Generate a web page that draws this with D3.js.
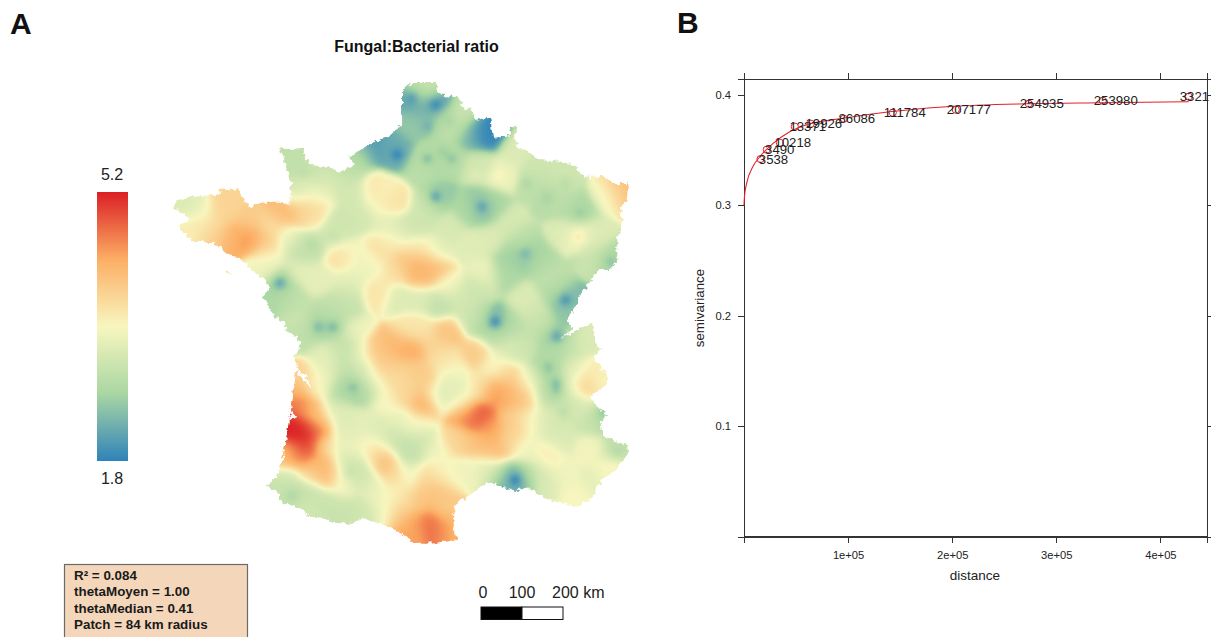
<!DOCTYPE html>
<html>
<head>
<meta charset="utf-8">
<script src="https://cdn.jsdelivr.net/npm/d3@7/dist/d3.min.js"></script>
<style>
  html, body { margin: 0; padding: 0; background: #fff; overflow: hidden; }
  svg { display: block; font-family: "Liberation Sans", Arial, sans-serif; }
  .axis path, .axis line { stroke: #333; shape-rendering: crispEdges; }
  .axis text { font-size: 11.2px; fill: #222; font-family: "Liberation Sans", Arial, sans-serif; }
</style>
</head>
<body>
<script>
// map units are km east / north of the south-west corner of the map window
var franceOutline = [
  [569,1115],[593,1127],[651,1127],[654,1103],[683,1093],[705,1093],[712,1069],[737,1061],[744,1037],[781,1042],
  [788,993],[825,996],[834,1020],[844,1017],[842,993],[847,971],[886,952],[898,939],[952,935],[988,927],
  [1008,898],[1061,898],[1081,883],[1118,883],[1118,849],[1098,817],[1103,786],[1091,752],[1091,695],[1074,673],
  [1044,673],[1032,651],[996,605],[993,586],[969,549],[981,529],[956,505],[981,517],[1005,532],[1030,537],
  [1037,495],[1052,476],[1032,459],[1066,415],[1066,390],[1025,366],[1037,342],[1064,317],[1049,300],[1057,264],
  [1115,244],[1118,220],[1091,188],[1049,154],[1032,117],[993,93],[959,102],[910,117],[866,142],[847,132],
  [793,146],[776,154],[732,122],[695,98],[691,41],[700,12],[659,7],[593,5],[561,32],[520,49],
  [471,66],[447,51],[398,54],[366,68],[342,68],[317,90],[268,105],[268,127],[232,146],[261,166],
  [276,220],[290,285],[300,366],[307,422],[312,439],[300,459],[317,481],[312,505],[285,520],[281,542],
  [256,556],[239,586],[227,603],[244,630],[224,651],[200,671],[176,695],[139,712],[105,739],[56,739],
  [41,756],[17,776],[49,793],[24,813],[12,822],[17,842],[81,852],[117,854],[122,866],[163,869],
  [195,825],[227,837],[268,837],[293,830],[295,883],[276,944],[266,974],[293,964],[325,969],[329,944],
  [342,927],[383,922],[415,910],[451,927],[439,944],[481,976],[529,993],[566,1025],[566,1103]
];
var girondeHole = [[312,427],[329,415],[344,390],[344,383],[327,400],[312,420]];
var arcachonHole = [[290,305],[300,325],[310,312],[298,305]];
var belleIle = [[134,672],[151,663],[141,660]];

// fungal:bacterial ratio: [km east, km north, ratio]
var fieldSamples = [
  [598,1086,2.0],[647,1078,1.95],[622,1049,2.4],[586,1025,2.5],[671,1037,2.75],[610,1105,3.0],[634,1120,3.1],
  [761,1005,1.85],[781,1005,1.8],[732,1000,2.4],[695,1025,3.0],[720,1057,3.0],[495,971,2.0],[537,976,2.2],[554,952,2.2],
  [464,952,2.7],[439,915,2.9],[342,915,3.0],[305,939,2.9],[317,866,3.0],[366,878,3.05],[415,878,3.1],
  [529,859,3.5],[500,866,3.7],[549,842,3.8],[512,830,3.6],[610,915,2.85],[651,939,2.7],[627,939,2.8],[683,944,2.8],
  [756,927,3.1],[647,849,2.5],[761,822,2.3],[732,817,2.7],[781,830,2.7],[805,903,3.4],[842,964,3.2],[903,915,3.05],
  [952,891,3.05],[915,854,2.8],[891,878,2.9],[952,842,2.85],[996,810,2.7],[1103,861,4.2],[1093,871,4.1],[1074,854,3.3],
  [996,752,3.6],[964,756,3.2],[1037,756,3.2],[1074,695,2.7],[1025,708,3.0],[866,708,2.5],[830,700,2.6],[903,695,2.7],
  [854,744,2.85],[817,659,2.7],[769,659,3.4],[964,598,2.3],[964,573,2.5],[939,622,2.8],[927,659,2.9],[830,781,3.15],
  [683,769,3.15],[659,720,3.25],[732,732,3.25],[781,744,3.2],[610,781,3.05],[622,830,3.1],[573,769,3.1],
  [610,691,4.4],[573,691,4.2],[647,676,4.2],[610,659,4.2],[586,725,3.6],[622,720,3.55],[678,634,3.5],
  [195,749,4.5],[146,744,4.3],[110,756,3.9],[122,817,3.9],[146,842,3.9],[85,781,3.75],[195,793,4.0],[232,732,4.0],
  [268,817,4.2],[317,813,4.2],[342,817,4.0],[366,854,3.55],[329,854,3.5],[244,781,3.8],[37,830,3.2],[73,817,3.3],
  [49,773,3.6],[293,744,3.4],[317,720,2.85],[342,732,2.95],[403,756,3.1],[415,781,3.05],[420,703,3.8],[451,708,3.4],
  [342,805,3.5],[512,720,3.8],[537,744,3.6],[488,683,3.4],[505,615,3.7],[549,671,3.7],[268,639,2.5],[256,605,2.7],
  [293,598,2.9],[317,671,3.3],[244,695,3.4],[220,671,3.4],[432,605,3.05],[439,647,3.3],[366,647,3.3],[561,598,3.2],
  [659,586,2.9],[610,598,3.2],[708,610,3.1],[756,622,3.0],[793,544,2.2],[756,549,2.8],[830,537,2.8],[793,512,2.9],
  [732,561,3.1],[944,508,2.4],[903,537,2.9],[866,598,3.2],[891,561,3.1],[854,488,3.0],[830,476,3.2],[361,532,2.6],
  [398,532,2.6],[317,549,3.0],[427,573,2.9],[390,573,2.9],[329,512,2.9],[451,525,3.4],[447,386,2.6],[415,378,2.7],
  [476,378,2.7],[427,427,2.8],[439,476,2.9],[464,427,3.1],[415,476,3.0],[378,464,3.3],[390,427,3.35],[366,390,3.4],
  [325,281,5.2],[305,281,5.2],[354,281,5.0],[329,244,5.1],[317,342,4.8],[342,329,4.2],[312,378,4.3],[366,305,3.9],
  [378,244,3.8],[317,407,3.9],[354,390,3.6],[293,220,4.2],[325,220,4.8],[378,190,4.4],[390,171,4.0],[342,183,3.9],
  [427,146,3.5],[403,329,3.2],[427,305,3.25],[293,159,3.1],[298,122,2.8],[342,122,3.0],[390,98,3.0],[439,85,3.0],
  [329,85,3.1],[281,122,3.0],[476,73,3.1],[439,176,3.0],[464,183,3.05],[427,207,3.1],[476,146,3.1],[500,134,3.45],
  [520,203,4.2],[549,171,3.9],[500,232,3.7],[464,244,3.5],[439,268,3.2],[476,293,3.3],[512,281,3.2],[427,244,3.4],
  [586,481,4.4],[549,488,4.2],[500,476,4.1],[525,439,4.0],[676,520,4.1],[647,488,3.9],[749,464,4.0],[586,427,4.0],
  [622,403,4.0],[617,342,4.3],[573,366,3.9],[561,403,3.8],[500,403,3.6],[464,464,3.5],[610,525,3.7],[581,529,3.7],
  [671,451,3.7],[695,415,3.55],[691,398,3.2],[695,366,3.1],[659,366,3.3],
  [752,312,4.9],[720,317,4.5],[781,281,4.4],[793,373,4.5],[830,366,4.3],[854,390,4.05],[817,415,3.95],[866,354,4.05],
  [842,305,4.0],[793,232,4.2],[744,244,4.1],[695,256,3.9],[830,256,3.9],[708,354,3.7],[756,390,3.7],[793,439,3.4],
  [878,305,3.5],[866,232,3.4],[586,220,2.9],[549,256,3.0],[610,256,3.0],[610,293,3.5],[561,305,3.35],[525,354,3.5],
  [647,232,3.4],[634,49,4.8],[659,37,4.7],[598,49,4.4],[610,110,4.1],[659,134,4.1],[671,85,4.0],[622,159,4.0],
  [573,110,3.8],[561,73,4.1],[586,24,4.4],[683,37,4.2],[647,183,3.6],[586,171,3.3],[683,171,3.45],[549,122,3.5],
  [525,85,3.4],[842,159,2.1],[817,163,2.5],[866,163,2.7],[842,134,2.2],[781,183,3.2],[732,183,3.4],[903,183,3.1],
  [915,146,3.2],[944,390,2.5],[922,434,2.7],[939,476,2.8],[915,366,2.9],[915,305,3.2],[878,403,3.1],[976,488,3.0],
  [1013,500,3.2],[1005,386,4.2],[1025,415,3.7],[1049,403,3.5],[976,390,3.3],[988,427,3.2],[1061,310,2.7],[1025,305,3.0],
  [952,305,3.1],[976,354,2.9],[1000,342,3.2],[1025,232,3.45],[1086,232,2.9],[1074,183,3.6],[1037,159,3.3],[922,212,3.7],
  [959,171,3.4],[988,122,3.5],[952,256,3.2],[529,781,3.25],[476,805,3.1],[449,854,3.1]
];

// small local spots on top of the smooth field: [km east, km north, change in ratio]
var fieldSpots = [
  [590,1091,-0.25],[647,1074,-0.25],[683,1032,-0.15],[630,1020,-0.15],[627,942,-0.3],[688,942,-0.25],[666,959,-0.15],
  [647,849,-0.4],[761,825,-0.3],[871,883,-0.15],[964,883,-0.15],[920,847,-0.15],[1000,808,-0.15],[866,712,-0.2],
  [981,695,-0.15],[1074,691,-0.2],[964,598,-0.35],[800,903,0.15],[744,903,0.1],[871,825,0.1],[996,752,0.15],
  [554,952,-0.3],[268,639,-0.35],[325,908,-0.1],[398,752,-0.1],[346,732,-0.1],[793,544,-0.45],
  [944,508,-0.35],[922,434,-0.2],[944,395,-0.25],[944,376,-0.2],[959,322,-0.15],[1054,322,-0.2],[1093,227,-0.15],
  [842,159,-0.4],[361,532,-0.25],[398,532,-0.25],[447,386,-0.2],[298,122,-0.15],[439,176,-0.1]
];

var legendStops = [1.8, 2.65, 3.5, 4.35, 5.2];
var legendColors = ['#2f83ba', '#a9d6a2', '#f8f6bf', '#fcae64', '#db1f24'];
var scaleBarKm = [0, 100, 200];
var statsLines = ['R\u00b2 = 0.084', 'thetaMoyen = 1.00', 'thetaMedian = 0.41', 'Patch = 84 km radius'];

// empirical variogram
var binDistance = [15850, 21900, 34400, 48800, 64200, 95900, 142900, 203500, 273600, 344700, 427300];
var binGamma = [0.3418, 0.3503, 0.3566, 0.3711, 0.3738, 0.3783, 0.3838, 0.3865, 0.3919, 0.3946, 0.3983];
var binPairs = ['3538', '3490', '10218', '13371', '19926', '86086', '111784', '207177', '254935', '253980', '3321'];

// fitted model
var modelDistance = [0, 500, 2700, 8500, 15200, 27700, 44000, 60300, 92000, 140000, 194800, 271700, 344700, 427300];
var modelGamma = [0.3, 0.3085, 0.3204, 0.3349, 0.3439, 0.3557, 0.3665, 0.3729, 0.3783, 0.3846, 0.3892, 0.3919, 0.3928, 0.3937];

var distanceTicks = [0, 100000, 200000, 300000, 400000];
var distanceTickLabels = ['', '1e+05', '2e+05', '3e+05', '4e+05'];
var gammaTicks = [0, 0.1, 0.2, 0.3, 0.4];
var gammaTickLabels = ['', '0.1', '0.2', '0.3', '0.4'];

var _width = 1211, _height = 637;

var svg = d3.select('body').append('svg')
    .attr('width', _width)
    .attr('height', _height);

var mapX = d3.scaleLinear().domain([0, 1150]).range([170, 641.5]);
var mapY = d3.scaleLinear().domain([0, 1150]).range([545, 73.5]);
var color = d3.scaleLinear().domain(legendStops).range(legendColors).clamp(true);

renderPanelLetters();
renderMap();
renderLegend();
renderStatsBox();
renderScaleBar();
renderVariogram();

function renderPanelLetters() {
  svg.append('text').attr('x', 10).attr('y', 34)
      .attr('font-size', 30).attr('font-weight', 'bold').attr('fill', '#111').text('A');
  svg.append('text').attr('x', 677).attr('y', 33)
      .attr('font-size', 30).attr('font-weight', 'bold').attr('fill', '#111').text('B');
  svg.append('text').attr('x', 416.5).attr('y', 52)
      .attr('text-anchor', 'middle').attr('font-size', 16).attr('font-weight', 'bold')
      .attr('fill', '#111').text('Fungal:Bacterial ratio');
}

// smooth the read-off samples into a raster, the coast is a roughened mask
function renderMap() {
  var step = 4, n = 288;
  var canvas = document.createElement('canvas');
  canvas.width = n;
  canvas.height = n;
  var ctx = canvas.getContext('2d');
  var img = ctx.createImageData(n, n);
  var sigma2 = 2 * 22 * 22, spotSigma2 = 2 * 11 * 11;

  for (var j = 0; j < n; j++) {
    var north = (n - j - 0.5) * step;
    for (var i = 0; i < n; i++) {
      var east = (i + 0.5) * step;
      var sumW = 0.001, sumV = 0.001 * 3.2;
      for (var s = 0; s < fieldSamples.length; s++) {
        var dx = fieldSamples[s][0] - east, dy = fieldSamples[s][1] - north;
        var d2 = dx * dx + dy * dy;
        if (d2 < 12000) {
          var w = Math.exp(-d2 / sigma2);
          sumW += w;
          sumV += w * fieldSamples[s][2];
        }
      }
      var v = sumV / sumW;
      for (var t = 0; t < fieldSpots.length; t++) {
        var sx = fieldSpots[t][0] - east, sy = fieldSpots[t][1] - north;
        var sd2 = sx * sx + sy * sy;
        if (sd2 < 2000) {
          v += fieldSpots[t][2] * Math.exp(-sd2 / spotSigma2);
        }
      }
      var c = d3.rgb(color(v));
      var k = (j * n + i) * 4;
      img.data[k] = c.r;
      img.data[k + 1] = c.g;
      img.data[k + 2] = c.b;
      img.data[k + 3] = 255;
    }
  }
  ctx.putImageData(img, 0, 0);

  var line = d3.line()
      .x(function(d) { return mapX(d[0]); })
      .y(function(d) { return mapY(d[1]); });
  var pathData = line(franceOutline) + 'Z' + line(girondeHole) + 'Z' + line(arcachonHole) + 'Z' + line(belleIle) + 'Z';

  var rough = svg.append('filter').attr('id', 'rough')
      .attr('filterUnits', 'userSpaceOnUse')
      .attr('x', 0).attr('y', 0).attr('width', _width).attr('height', _height)
      .attr('color-interpolation-filters', 'sRGB');
  rough.append('feTurbulence')
      .attr('type', 'fractalNoise').attr('baseFrequency', 0.22).attr('numOctaves', 2)
      .attr('seed', 4).attr('result', 'noise');
  rough.append('feDisplacementMap')
      .attr('in', 'SourceGraphic').attr('in2', 'noise')
      .attr('scale', 7).attr('xChannelSelector', 'R').attr('yChannelSelector', 'G');

  svg.append('mask').attr('id', 'coast')
      .attr('maskUnits', 'userSpaceOnUse')
      .attr('x', 0).attr('y', 0).attr('width', _width).attr('height', _height)
    .append('path')
      .attr('d', pathData)
      .attr('fill', '#fff')
      .attr('fill-rule', 'evenodd')
      .attr('filter', 'url(#rough)');

  svg.append('image')
      .attr('href', canvas.toDataURL())
      .attr('x', mapX(0))
      .attr('y', mapY(n * step))
      .attr('width', mapX(n * step) - mapX(0))
      .attr('height', mapY(0) - mapY(n * step))
      .attr('preserveAspectRatio', 'none')
      .attr('mask', 'url(#coast)');
}

function renderLegend() {
  var legendY = d3.scaleLinear().domain([1.8, 5.2]).range([461, 192]);
  var grad = svg.append('linearGradient').attr('id', 'ramp')
      .attr('x1', 0).attr('y1', 1).attr('x2', 0).attr('y2', 0);
  legendStops.forEach(function(v, i) {
    grad.append('stop')
        .attr('offset', i / (legendStops.length - 1))
        .attr('stop-color', color(v));
  });
  svg.append('rect')
      .attr('x', 97).attr('y', legendY(5.2))
      .attr('width', 31).attr('height', legendY(1.8) - legendY(5.2))
      .attr('fill', 'url(#ramp)');
  svg.append('text').attr('x', 112).attr('y', legendY(5.2) - 12)
      .attr('text-anchor', 'middle').attr('font-size', 16).attr('fill', '#222').text('5.2');
  svg.append('text').attr('x', 112).attr('y', legendY(1.8) + 23)
      .attr('text-anchor', 'middle').attr('font-size', 16).attr('fill', '#222').text('1.8');
}

function renderStatsBox() {
  svg.append('rect')
      .attr('x', 64.5).attr('y', 564.5)
      .attr('width', 183).attr('height', 90)
      .attr('fill', '#f4d7bb').attr('stroke', '#6a6a6a').attr('stroke-width', 1.2);
  svg.selectAll('.stat')
      .data(statsLines)
      .enter().append('text')
      .attr('class', 'stat')
      .attr('x', 74)
      .attr('y', function(d, i) { return 579.5 + i * 16.6; })
      .attr('font-size', 13.4).attr('font-weight', 'bold').attr('fill', '#1a1a1a')
      .text(function(d) { return d; });
}

function renderScaleBar() {
  var barX = d3.scaleLinear().domain([0, 200]).range([481, 563]);
  svg.selectAll('.bar-seg')
      .data(d3.pairs(scaleBarKm))
      .enter().append('rect')
      .attr('class', 'bar-seg')
      .attr('x', function(d) { return barX(d[0]); })
      .attr('y', 607)
      .attr('width', function(d) { return barX(d[1]) - barX(d[0]); })
      .attr('height', 12.5)
      .attr('fill', function(d, i) { return i == 0 ? '#000' : '#fff'; })
      .attr('stroke', '#111').attr('stroke-width', 1);
  svg.selectAll('.bar-label')
      .data(scaleBarKm)
      .enter().append('text')
      .attr('class', 'bar-label')
      .attr('x', function(d) { return d == 200 ? barX(d) - 11 : barX(d) + (d == 0 ? 2 : 0); })
      .attr('y', 598)
      .attr('text-anchor', function(d) { return d == 200 ? 'start' : 'middle'; })
      .attr('font-size', 16).attr('fill', '#222')
      .text(function(d) { return d == 200 ? '200 km' : d; });
}

function renderVariogram() {
  var left = 744, right = 1207, top = 79, bottom = 536.5;
  var x = d3.scaleLinear().domain([0, 444800]).range([left, right]);
  var y = d3.scaleLinear().domain([0, 0.4143]).range([bottom, top]);

  var g = svg.append('g');

  g.append('rect')
      .attr('x', left).attr('y', top)
      .attr('width', right - left).attr('height', bottom - top)
      .attr('fill', 'none').attr('stroke', '#333').attr('shape-rendering', 'crispEdges');

  function tickText(labels, ticks) {
    return function(d) { return labels[ticks.indexOf(d)]; };
  }

  g.append('g').attr('class', 'axis')
      .attr('transform', 'translate(0,' + bottom + ')')
      .call(d3.axisBottom(x).tickValues(distanceTicks).tickSizeOuter(0).tickSize(6).tickPadding(9)
        .tickFormat(tickText(distanceTickLabels, distanceTicks)));
  g.append('g').attr('class', 'axis')
      .attr('transform', 'translate(0,' + top + ')')
      .call(d3.axisTop(x).tickValues(distanceTicks).tickSizeOuter(0).tickSize(6).tickFormat(''));
  g.append('g').attr('class', 'axis')
      .attr('transform', 'translate(' + left + ',0)')
      .call(d3.axisLeft(y).tickValues(gammaTicks).tickSizeOuter(0).tickSize(6).tickPadding(7)
        .tickFormat(tickText(gammaTickLabels, gammaTicks)));
  g.append('g').attr('class', 'axis')
      .attr('transform', 'translate(' + right + ',0)')
      .call(d3.axisRight(y).tickValues(gammaTicks).tickSizeOuter(0).tickSize(6).tickFormat(''));

  g.selectAll('.axis .domain').attr('stroke', 'none');

  g.append('text')
      .attr('x', 975).attr('y', 580)
      .attr('text-anchor', 'middle').attr('font-size', 13.5).attr('fill', '#222').text('distance');
  g.append('text')
      .attr('transform', 'translate(704,308) rotate(-90)')
      .attr('text-anchor', 'middle').attr('font-size', 13.3).attr('fill', '#222').text('semivariance');

  var model = d3.line()
      .x(function(d) { return x(d); })
      .y(function(d, i) { return y(modelGamma[i]); })
      .curve(d3.curveMonotoneX);

  g.append('path')
      .attr('d', model(modelDistance))
      .attr('fill', 'none').attr('stroke', '#e3202c').attr('stroke-width', 1.1);

  g.selectAll('.bin')
      .data(binDistance)
      .enter().append('circle')
      .attr('class', 'bin')
      .attr('cx', function(d) { return x(d); })
      .attr('cy', function(d, i) { return y(binGamma[i]); })
      .attr('r', 3.6)
      .attr('fill', 'none').attr('stroke', '#e3202c').attr('stroke-width', 1);

  // labels are centred 13px right of the point; the last one runs off the panel
  // in the source and only its first four digits show, treat it as six wide
  g.selectAll('.bin-label')
      .data(binPairs)
      .enter().append('text')
      .attr('class', 'bin-label')
      .attr('x', function(d, i) {
        var digits = i == binPairs.length - 1 ? 6 : d.length;
        return x(binDistance[i]) + 13 - digits * 3.67;
      })
      .attr('y', function(d, i) { return y(binGamma[i]) + 4.5; })
      .attr('font-size', 13.2).attr('fill', '#222')
      .text(function(d) { return d; });
}
</script>
</body>
</html>
